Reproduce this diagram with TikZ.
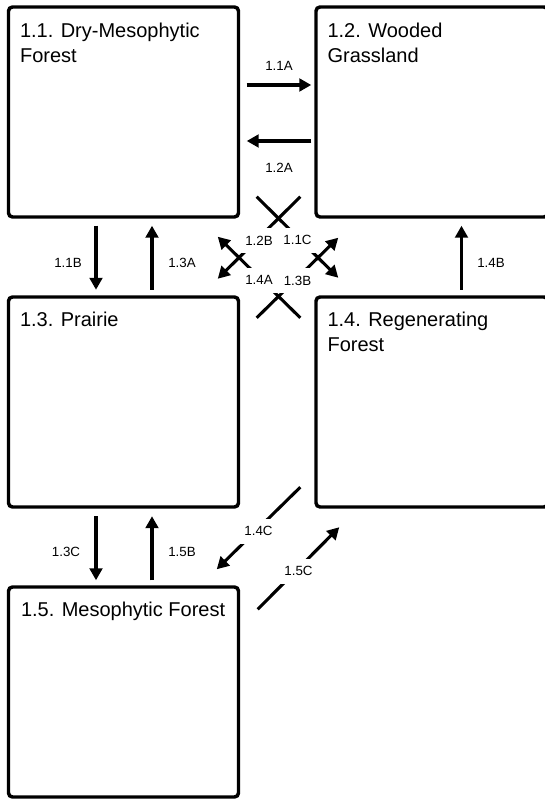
\documentclass[tikz,border=0pt]{standalone}
\usepackage{fontspec}
\setmainfont{Liberation Sans}
\usetikzlibrary{arrows.meta,positioning}

\begin{document}
\begin{tikzpicture}[x=0.75pt,y=0.75pt,>={Triangle[length=9pt,width=9.5pt]},
	box/.style={draw,line width=2.6pt,rounded corners=3pt,minimum width=172.5pt,minimum height=157.5pt,inner sep=0pt},
	boxtext/.style={anchor=base west,align=left,inner sep=0pt,font=\fontsize{15pt}{18.75pt}\selectfont},
	lbl/.style={fill=white,inner xsep=3pt,inner ysep=6pt,font=\fontsize{10pt}{12pt}\selectfont},
	conn/.style={->,line width=2.3pt}]
	\useasboundingbox (0,0) rectangle (545,799);
	\clip (0,0) rectangle (545,799);
	\node[box] (b11) at (123.5,687) {};
	\node[box,minimum width=174pt] (b12) at (432,687) {};
	\node[box] (b13) at (123.5,397) {};
	\node[box,minimum width=174pt] (b14) at (432,397) {};
	\node[box] (b15) at (123.5,107) {};
	\node[boxtext] (t11) at ([shift={(13,-57)}]b11.north west) {1.1. Dry-Mesophytic\\Forest};
	\node[boxtext] (t12) at ([shift={(13,-57)}]b12.north west) {1.2. Wooded\\Grassland};
	\node[boxtext] (t13) at ([shift={(13,-31)}]b13.north west) {1.3. Prairie};
	\node[boxtext] (t14) at ([shift={(13,-56.5)}]b14.north west) {1.4. Regenerating\\Forest};
	\node[boxtext] (t15) at ([shift={(14,-31)}]b15.north west) {1.5. Mesophytic Forest};
	\path[conn]
		([shift={(6.5,27)}]b11.east) edge node[lbl,shift={(0,19)}] {1.1A} ([shift={(-3,27)}]b12.west)
		([shift={(-3,-29)}]b12.west) edge node[lbl,shift={(0,-27)}] {1.2A} ([shift={(6.5,-29)}]b11.east)
		([shift={(-27.5,-7)}]b11.south) edge node[lbl,shift={(-28,-5)}] {1.1B} ([shift={(-27.5,5.5)}]b13.north)
		([shift={(28.5,5.5)}]b13.north) edge node[lbl,shift={(30,-5)}] {1.3A} ([shift={(28.5,-7)}]b11.south)
		([shift={(29.5,5.5)}]b14.north) edge node[lbl,shift={(29.5,-5)}] {1.4B} ([shift={(29.5,-7)}]b12.south)
		([shift={(-27.5,-7.5)}]b13.south) edge node[lbl,shift={(-30,-3.5)}] {1.3C} ([shift={(-27.5,5)}]b15.north)
		([shift={(28.5,5)}]b15.north) edge node[lbl,shift={(30,-3.5)}] {1.5B} ([shift={(28.5,-7.5)}]b13.south);
	\path[conn]
		([shift={(16.5,22)}]b11.south east) edge node[lbl,shift={(0,-3)}] {1.1C} ([shift={(24,17.5)}]b14.north west)
		([shift={(-14,22)}]b12.south west) edge node[lbl,shift={(0,-3)}] {1.2B} ([shift={(-22.5,16.5)}]b13.north east)
		([shift={(-14,-22.5)}]b14.north west) edge node[lbl,shift={(0,-3)}] {1.4A} ([shift={(-22.5,-18)}]b11.south east)
		([shift={(16.5,-22.5)}]b13.north east) edge node[lbl,shift={(0,-3)}] {1.3B} ([shift={(24,-19)}]b12.south west)
		([shift={(-14,21.5)}]b14.south west) edge node[lbl,shift={(0,-3)}] {1.4C} ([shift={(-23.5,16)}]b15.north east)
		([shift={(17.5,-24)}]b15.north east) edge node[lbl,shift={(0,-3)}] {1.5C} ([shift={(25,-18.5)}]b14.south west);
\end{tikzpicture}
\end{document}
